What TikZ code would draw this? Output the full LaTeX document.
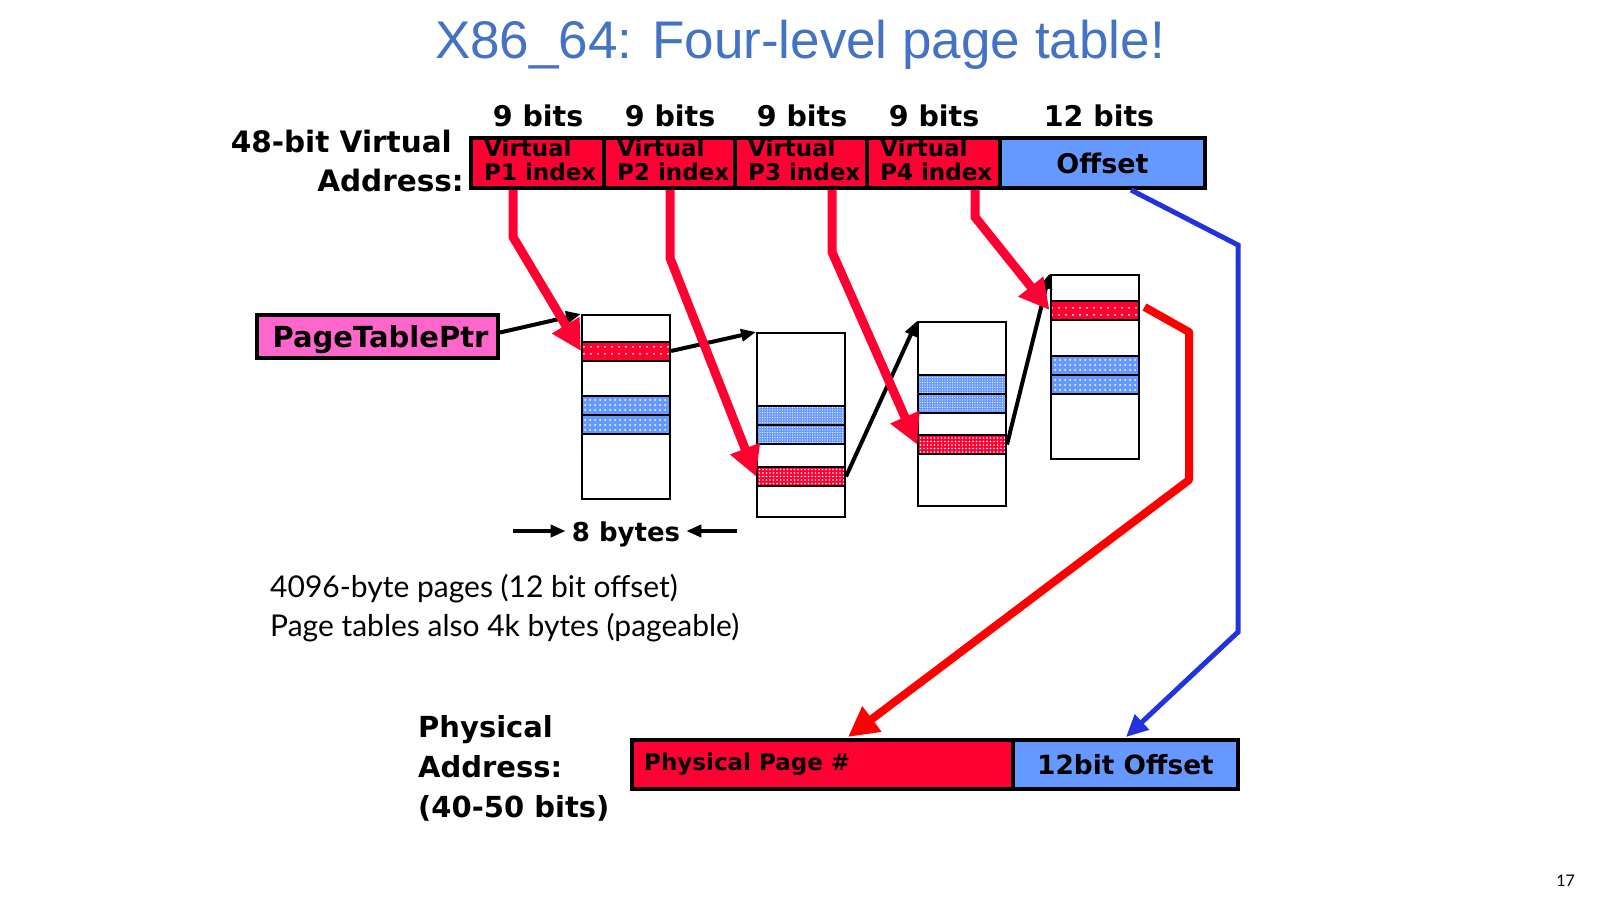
\documentclass[tikz,border=0pt]{standalone}
\usepackage{fontspec}
\setmainfont{Lato}
\newfontfamily\dvb{DejaVu Sans}
\newfontfamily\titlef{Liberation Sans}
\newcommand\bx{\dvb\bfseries}
\newcommand\twol[2]{\begin{tabular}{@{}l@{}}#1\\#2\end{tabular}}
\usetikzlibrary{arrows.meta,patterns.meta,calc}
\definecolor{fieldred}{HTML}{FF0033}
\definecolor{fieldblue}{HTML}{6699FF}
\definecolor{ptrpink}{HTML}{FF66CC}
\definecolor{titleblue}{HTML}{4472C4}
\definecolor{lineblue}{HTML}{2233DD}
\definecolor{purered}{HTML}{FF0000}
\tikzset{
  fld/.style={draw=black, line width=4pt, minimum height=50pt, inner sep=0pt},
  fldtxt/.style={inner sep=0pt, font=\bx\fontsize{23}{23}\selectfont},
  bitslbl/.style={inner sep=0pt, anchor=base, font=\bx\fontsize{28.5}{28.5}\selectfont},
  tbl/.style={draw=black, line width=2pt, fill=white, minimum width=88pt, minimum height=184pt, inner sep=0pt},
  ent/.style={draw=black, line width=2pt, minimum width=88pt, minimum height=19pt, inner sep=0pt},
  redA/.style={preaction={fill=fieldred}, pattern={Dots[distance=6.5pt,radius=1.1pt]}, pattern color=white},
  redB/.style={preaction={fill=fieldred}, pattern={Dots[distance=3.5pt,radius=0.9pt]}, pattern color=white},
  blueA/.style={preaction={fill=fieldblue}, pattern={Dots[distance=5pt,radius=1pt]}, pattern color=white},
  blueB/.style={preaction={fill=fieldblue}, pattern={Dots[distance=2.5pt,radius=0.7pt]}, pattern color=white},
  blk/.style={draw=black, line width=4pt, -{Triangle[length=15pt,width=12pt]}},
  redarr/.style={draw=fieldred, line width=9pt, -{Triangle[length=30pt,width=30pt]}},
  bigred/.style={draw=purered, line width=8pt, line join=round, -{Triangle[length=30pt,width=30pt]}},
  bluel/.style={draw=lineblue, line width=5pt, -{Triangle[length=22pt,width=20pt]}},
}
\begin{document}
\begin{tikzpicture}[x=1pt,y=-1pt]
\useasboundingbox (0,0) rectangle (1600,900);

% title
\node[font=\titlef\fontsize{53}{60}\selectfont, text=titleblue, anchor=base, inner sep=0pt] (title) at (800,58) {X86\_64: Four-level page table!};

% virtual address
\node[font=\bx\fontsize{29.5}{39}\selectfont, anchor=north east, inner sep=0pt] (vlbl) at (464,124.7)
  {\begin{tabular}{@{}r@{}}48-bit Virtual\hspace*{12pt}\\Address:\end{tabular}};
\node[fld, fill=fieldred, minimum width=133pt] (p1) at (537.5,163) {};
\node[fld, fill=fieldred, minimum width=131pt] (p2) at (669.5,163) {};
\node[fld, fill=fieldred, minimum width=132pt] (p3) at (801,163) {};
\node[fld, fill=fieldred, minimum width=133pt] (p4) at (933.5,163) {};
\node[fld, fill=fieldblue, minimum width=205pt, font=\bx\fontsize{27}{27}\selectfont] (off) at (1102.5,163) {Offset};
\node[fldtxt, anchor=west] (p1t) at ([xshift=15pt]p1.west) {\twol{Virtual}{P1 index}};
\node[fldtxt, anchor=west] (p2t) at ([xshift=15pt]p2.west) {\twol{Virtual}{P2 index}};
\node[fldtxt, anchor=west] (p3t) at ([xshift=15pt]p3.west) {\twol{Virtual}{P3 index}};
\node[fldtxt, anchor=west] (p4t) at ([xshift=15pt]p4.west) {\twol{Virtual}{P4 index}};
\node[bitslbl] (b1) at (538,126) {9 bits};
\node[bitslbl] (b2) at (670,126) {9 bits};
\node[bitslbl] (b3) at (802,126) {9 bits};
\node[bitslbl] (b4) at (934,126) {9 bits};
\node[bitslbl] (b5) at (1099,126) {12 bits};

% page table pointer
\node[draw=black, line width=4pt, fill=ptrpink, minimum width=241pt, minimum height=43pt, inner sep=0pt,
  font=\bx\fontsize{29}{29}\selectfont, text height=22pt, text depth=0pt] (ptr) at (377.5,336.5) {\hspace*{6pt}PageTablePtr};

% page tables
\node[tbl] (t1) at (626,407) {};
\node[tbl] (t2) at (801,425) {};
\node[tbl] (t3) at (962,414) {};
\node[tbl] (t4) at (1094.5,366.5) {};

\node[ent, redA] (e1r) at (626,351) {};
\node[ent, blueA] (e1b1) at (626,405.5) {};
\node[ent, blueA] (e1b2) at (626,424.5) {};

\node[ent, blueB] (e2b1) at (801,415.5) {};
\node[ent, blueB] (e2b2) at (801,434.5) {};
\node[ent, redB] (e2r) at (801,476.5) {};

\node[ent, blueB] (e3b1) at (962,384) {};
\node[ent, blueB] (e3b2) at (962,403) {};
\node[ent, redB] (e3r) at (962,444.5) {};

\node[ent, redA] (e4r) at (1094.5,310) {};
\node[ent, blueA] (e4b1) at (1094.5,365.5) {};
\node[ent, blueA] (e4b2) at (1094.5,384.5) {};

% black pointer arrows
\draw[blk] ([yshift=4pt]ptr.east) -- (t1.north west);
\draw[blk] (e1r.east) -- (t2.north west);
\draw[blk] (e2r.east) -- (t3.north west);
\draw[blk] (e3r.east) -- (t4.north west);

% red index arrows
\coordinate (k1) at (513,237);
\coordinate (k2) at (670,258);
\coordinate (k3) at (832,252);
\coordinate (k4) at (975,217);
\draw[redarr] (k1 |- p1.south) -- (k1) -- (e1r.west);
\draw[redarr] (k2 |- p2.south) -- (k2) -- (e2r.west);
\draw[redarr] (k3 |- p3.south) -- (k3) -- (e3r.west);
\draw[redarr] (k4 |- p4.south) -- (k4) -- (e4r.west);

% physical address
\node[fld, fill=fieldred, minimum width=381pt, minimum height=49pt] (ppn) at (822.5,764.5) {};
\node[fld, fill=fieldblue, minimum width=225pt, minimum height=49pt, font=\bx\fontsize{26.4}{26.4}\selectfont] (poff) at (1125.5,764.5) {12bit Offset};
\node[font=\bx\fontsize{23}{23}\selectfont, anchor=west, inner sep=0pt] (ppnt) at ([xshift=14pt]ppn.west) {Physical Page \#};
\node[font=\bx\fontsize{29}{40}\selectfont, anchor=north west, inner sep=0pt] (plbl) at (418,709)
  {\begin{tabular}{@{}l@{}}Physical\\Address:\\(40-50 bits)\end{tabular}};

% frame number arrow
\coordinate (m1) at (1189,332);
\coordinate (m2) at (1189,480);
\coordinate (m3) at (848,737);
\draw[bigred] ([xshift=5pt,yshift=3pt]e4r.east) -- (m1) -- (m2) -- (m3);

% offset arrow
\coordinate (n0) at (1131,0);
\coordinate (n1) at (1238,245);
\coordinate (n2) at (1238,632);
\coordinate (n3) at (1126,737);
\draw[bluel] (n0 |- off.south) -- (n1) -- (n2) -- (n3);

% 8 bytes
\node[font=\bx\fontsize{26}{26}\selectfont, inner xsep=6pt, inner ysep=0pt, anchor=base] (bytes) at (626,541) {8 bytes};
\coordinate (bl) at (513,531);
\coordinate (br) at (737,531);
\draw[blk] (bl) -- (bl -| bytes.west);
\draw[blk] (br) -- (br -| bytes.east);

% notes
\node[font=\fontsize{30}{39}\selectfont, anchor=north west, inner sep=0pt] (notes) at (270,569.7)
  {\begin{tabular}{@{}l@{}}4096-byte pages (12 bit offset)\\Page tables also 4k bytes (pageable)\end{tabular}};

\node[font=\fontsize{16}{16}\selectfont, anchor=base east, inner sep=0pt] (pg) at (1575,886) {17};
\end{tikzpicture}
\end{document}
